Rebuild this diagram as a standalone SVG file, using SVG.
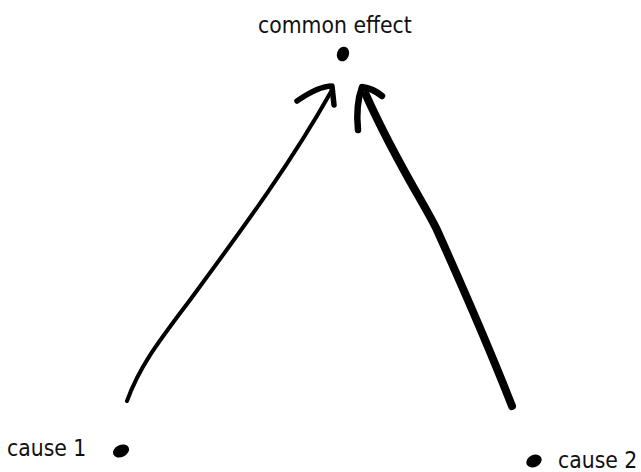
<svg xmlns="http://www.w3.org/2000/svg" width="641" height="472" viewBox="0 0 641 472">
<style>
text{font-family:"DejaVu Sans Condensed","DejaVu Sans",sans-serif;font-size:22.7px;fill:#111}
.ln{fill:none;stroke:#000;stroke-linecap:round;stroke-linejoin:round}
.dot{fill:#000}
</style>
<rect width="641" height="472" fill="#fff"/>
<g id="common-effect">
<ellipse class="dot" cx="343" cy="54" rx="6" ry="7.5" transform="rotate(20 343 54)"/>
<text x="258" y="33">common effect</text>
</g>
<g id="cause-1">
<ellipse class="dot" cx="121" cy="451" rx="8.5" ry="6" transform="rotate(-25 121 451)"/>
<text x="7" y="456">cause 1</text>
</g>
<g id="cause-2">
<ellipse class="dot" cx="534" cy="461" rx="8" ry="6" transform="rotate(-25 534 461)"/>
<text x="558" y="468">cause 2</text>
</g>
<g id="connectors">
<path class="ln" stroke-width="4" d="M127 401 C140 365 160 340 190 300 C240 232 290 165 332 90"/>
<path class="ln" stroke-width="5.5" d="M297 101 C310 92 322 86 332 86 L334 105"/>
<path class="ln" stroke-width="8" d="M512 406 C490 350 455 270 437 230 C425 205 395 160 366 95"/>
<path class="ln" stroke-width="6.5" d="M358 130 C356 110 358 98 362 87 C370 88 376 91 382 96"/>
</g>
</svg>
